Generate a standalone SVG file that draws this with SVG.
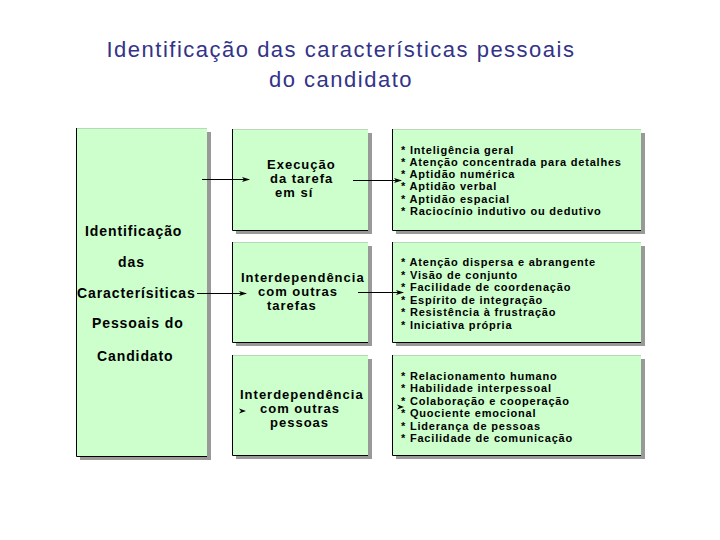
<svg xmlns="http://www.w3.org/2000/svg" width="720" height="540" viewBox="0 0 720 540">
<defs>
<style>
.shadow{fill:#999999;}
.box{fill:#CCFFCC;}
.edge{stroke:#000;stroke-width:1;fill:none;}
.top{stroke:#b8d8b8;stroke-width:1;fill:none;}
.title{font-family:"Liberation Sans",Arial,sans-serif;font-size:22px;fill:#333388;letter-spacing:1.5px;text-anchor:middle;}
.lt{font-family:"Liberation Sans",Arial,sans-serif;font-size:14px;font-weight:bold;fill:#000;letter-spacing:0.9px;}
.mt{font-family:"Liberation Sans",Arial,sans-serif;font-size:13px;font-weight:bold;fill:#000;letter-spacing:1px;}
.rt{font-family:"Liberation Sans",Arial,sans-serif;font-size:11px;font-weight:bold;fill:#000;letter-spacing:0.8px;}
.conn{stroke:#000;stroke-width:1;fill:none;}
.head{fill:#000;}
</style>
<marker id="arr" viewBox="0 0 8 6" refX="7" refY="3" markerWidth="8" markerHeight="6" markerUnits="userSpaceOnUse" orient="auto">
<path d="M0,0.5 L8,3 L0,5.5 L2,3 Z" fill="#000"/>
</marker>
</defs>
<rect width="720" height="540" fill="#fff"/>

<g id="title">
<text class="title" x="341" y="57">Identificação das características pessoais</text>
<text class="title" x="341" y="87">do candidato</text>
</g>

<g id="node-left">
<rect class="shadow" x="80" y="132" width="131" height="328"/>
<rect class="box" x="76" y="128" width="131" height="328"/>
<path class="top" d="M76.5,128.5 H207"/>
<path class="edge" d="M76.5,128 V456.5 H207"/>
<text class="lt" x="85" y="236">Identificação</text>
<text class="lt" x="118" y="267">das</text>
<text class="lt" x="77" y="298">Caracterísiticas</text>
<text class="lt" x="92" y="328">Pessoais do</text>
<text class="lt" x="97" y="361">Candidato</text>
</g>

<g id="node-m1">
<rect class="shadow" x="236" y="133" width="136" height="101"/>
<rect class="box" x="232" y="129" width="136" height="101"/>
<path class="top" d="M232.5,129.5 H368"/>
<path class="edge" d="M232.5,129 V230.5 H368"/>
<text class="mt" x="267" y="169">Execução</text>
<text class="mt" x="270" y="183">da tarefa</text>
<text class="mt" x="275" y="197">em sí</text>
</g>

<g id="node-m2">
<rect class="shadow" x="236" y="246" width="136" height="100"/>
<rect class="box" x="232" y="242" width="136" height="100"/>
<path class="top" d="M232.5,242.5 H368"/>
<path class="edge" d="M232.5,242 V342.5 H368"/>
<text class="mt" x="241" y="282">Interdependência</text>
<text class="mt" x="258" y="296">com outras</text>
<text class="mt" x="267" y="310">tarefas</text>
</g>

<g id="node-m3">
<rect class="shadow" x="236" y="359" width="136" height="100"/>
<rect class="box" x="232" y="355" width="136" height="100"/>
<path class="top" d="M232.5,355.5 H368"/>
<path class="edge" d="M232.5,355 V455.5 H368"/>
<text class="mt" x="240" y="399">Interdependência</text>
<text class="mt" x="260" y="413">com outras</text>
<text class="mt" x="270" y="427">pessoas</text>
</g>

<g id="node-r1">
<rect class="shadow" x="396" y="133" width="249" height="101"/>
<rect class="box" x="392" y="129" width="249" height="101"/>
<path class="top" d="M392.5,129.5 H641"/>
<path class="edge" d="M392.5,129 V230.5 H641"/>
<text class="rt" x="401" y="154">* Inteligência geral</text>
<text class="rt" x="401" y="166">* Atenção concentrada para detalhes</text>
<text class="rt" x="401" y="178">* Aptidão numérica</text>
<text class="rt" x="401" y="190">* Aptidão verbal</text>
<text class="rt" x="401" y="203">* Aptidão espacial</text>
<text class="rt" x="401" y="215">* Raciocínio indutivo ou dedutivo</text>
</g>

<g id="node-r2">
<rect class="shadow" x="396" y="246" width="249" height="100"/>
<rect class="box" x="392" y="242" width="249" height="100"/>
<path class="top" d="M392.5,242.5 H641"/>
<path class="edge" d="M392.5,242 V342.5 H641"/>
<text class="rt" x="401" y="266">* Atenção dispersa e abrangente</text>
<text class="rt" x="401" y="279">* Visão de conjunto</text>
<text class="rt" x="401" y="291">* Facilidade de coordenação</text>
<text class="rt" x="401" y="304">* Espírito de integração</text>
<text class="rt" x="401" y="316">* Resistência à frustração</text>
<text class="rt" x="401" y="329">* Iniciativa própria</text>
</g>

<g id="node-r3">
<rect class="shadow" x="396" y="359" width="249" height="100"/>
<rect class="box" x="392" y="355" width="249" height="100"/>
<path class="top" d="M392.5,355.5 H641"/>
<path class="edge" d="M392.5,355 V455.5 H641"/>
<text class="rt" x="401" y="380">* Relacionamento humano</text>
<text class="rt" x="401" y="392">* Habilidade interpessoal</text>
<text class="rt" x="401" y="405">* Colaboração e cooperação</text>
<text class="rt" x="401" y="417">* Quociente emocional</text>
<text class="rt" x="401" y="430">* Liderança de pessoas</text>
<text class="rt" x="401" y="442">* Facilidade de comunicação</text>
</g>

<g id="connectors">
<line class="conn" x1="202" y1="179.5" x2="249" y2="179.5" marker-end="url(#arr)"/>
<line class="conn" x1="197" y1="293.5" x2="246" y2="293.5" marker-end="url(#arr)"/>
<path class="head" d="M239,408.5 L246,411 L239,413.5 L241,411 Z"/>
<line class="conn" x1="353" y1="180.5" x2="401" y2="180.5" marker-end="url(#arr)"/>
<line class="conn" x1="358" y1="292.5" x2="403" y2="292.5" marker-end="url(#arr)"/>
<path class="head" d="M397,404.5 L404,407 L397,409.5 L399,407 Z"/>
</g>
</svg>
